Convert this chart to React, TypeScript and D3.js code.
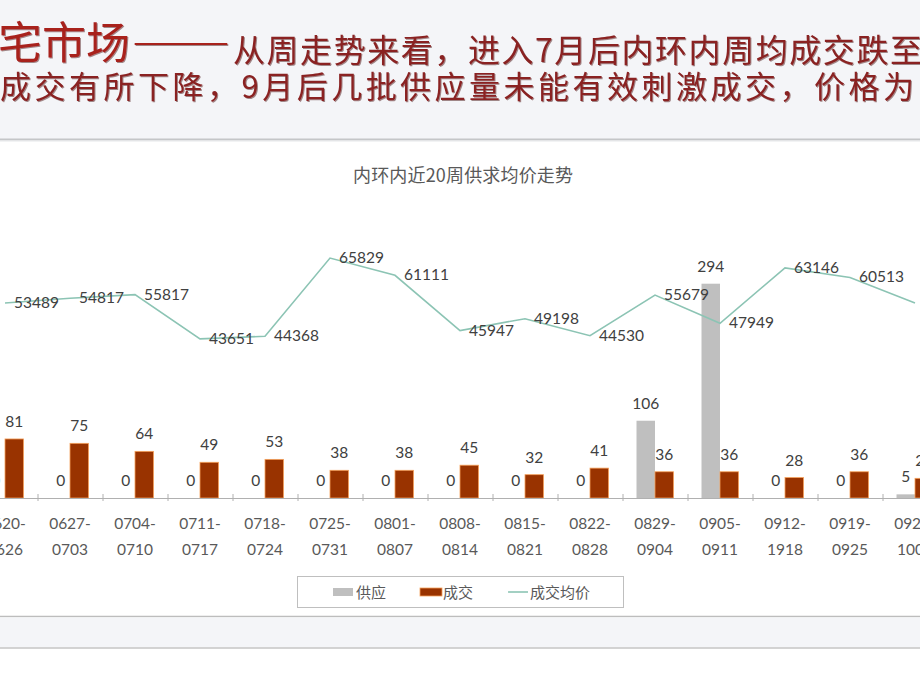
import React from 'react';
import * as d3 from 'd3';

const categories = [
  '0620-0626', '0627-0703', '0704-0710', '0711-0717', '0718-0724',
  '0725-0731', '0801-0807', '0808-0814', '0815-0821', '0822-0828',
  '0829-0904', '0905-0911', '0912-1918', '0919-0925', '0926-1002',
];
const supply = [0, 0, 0, 0, 0, 0, 0, 0, 0, 0, 106, 294, 0, 0, 5];
const deals = [81, 75, 64, 49, 53, 38, 38, 45, 32, 41, 36, 36, 28, 36, 27];
const prices = [53489, 54817, 55817, 43651, 44368, 65829, 61111, 45947, 49198, 44530, 55679, 47949, 63146, 60513, 53500];
const priceLabelShown = [true, true, true, true, true, true, true, true, true, true, true, true, true, true, false];
const seriesNames = ['供应', '成交', '成交均价'];

const headerBig = '宅市场';
const headerDash = '——';
const headerLine1 = '从周走势来看，进入7月后内环内周均成交跌至';
const headerLine2 = '成交有所下降，9月后几批供应量未能有效刺激成交，价格为';
const chartTitle = '内环内近20周供求均价走势';

const W = 920;
const H = 690;
const STEP = 65;
const X0 = -27.5;
const BASE = 498;
const TOP = 170;

const GRAY = '#BFBFBF';
const BROWN = '#993300';
const BROWN_EDGE = '#F5A05A';
const LINE = '#8CC4B4';
const RED_BIG = '#A8201F';
const RED_TXT = '#8A2323';

export default function App() {
  const x = d3.scaleBand<string>().domain(categories).range([X0, X0 + STEP * categories.length]).padding(0);
  const inner = d3.scaleBand<string>().domain(['s', 'd']).range([0, STEP]).paddingInner(0).paddingOuter(0.757);
  const yBar = d3.scaleLinear().domain([0, 450]).range([BASE, TOP]);
  const yLine = d3.scaleLinear().domain([0, 90000]).range([BASE, TOP]);
  const bw = inner.bandwidth();
  const center = (c: string) => (x(c) as number) + STEP / 2;

  const linePath = d3.line<number>()
    .x((_, i) => center(categories[i]))
    .y((v) => yLine(v))(prices) as string;

  const sansCJK = '"Noto Sans CJK SC", "Noto Sans", sans-serif';
  const labelFont = 'Lato, "Open Sans", sans-serif';

  return (
    <div style={{ position: 'fixed', left: 0, top: 0, width: W, height: H }}>
      <svg width={W} height={H} viewBox={`0 0 ${W} ${H}`} style={{ display: 'block', background: '#fff' }}>
        <defs>
          <filter id="hshadow" x="-5%" y="-20%" width="110%" height="150%">
            <feDropShadow dx={1} dy={1} stdDeviation={0.6} floodColor="#3a0a0a" floodOpacity={0.45} />
          </filter>
        </defs>
        {/* header band */}
        <rect x={0} y={0} width={W} height={139} fill="#F4F5F8" />
        <line x1={0} x2={W} y1={139.5} y2={139.5} stroke="#C4C6C8" strokeWidth={2} />
        <line x1={0} x2={W} y1={141} y2={141} stroke="#E6E8EA" strokeWidth={1} />

        <g filter="url(#hshadow)">
          <text x={-2} y={59} fill={RED_BIG} fontFamily={sansCJK} fontSize={44} textLength={132} lengthAdjust="spacingAndGlyphs">{headerBig}</text>
          <text x={132} y={53} fill={RED_BIG} fontFamily={sansCJK} fontSize={32} textLength={98} lengthAdjust="spacingAndGlyphs">{headerDash}</text>
          <text x={233} y={62} fill={RED_TXT} fontFamily={sansCJK} fontSize={32} textLength={689} lengthAdjust="spacing">{headerLine1}</text>
          <text x={0} y={98} fill={RED_TXT} fontFamily={sansCJK} fontSize={31} textLength={914} lengthAdjust="spacing">{headerLine2}</text>
        </g>

        {/* chart title */}
        <text x={463} y={182} textAnchor="middle" fill="#595959" fontFamily={sansCJK} fontSize={18} textLength={220} lengthAdjust="spacing">{chartTitle}</text>

        {/* bars */}
        {categories.map((c, i) => {
          const gx = (x(c) as number) + (inner('s') as number);
          const dx = (x(c) as number) + (inner('d') as number);
          return (
            <g key={c}>
              <rect x={gx} y={yBar(supply[i])} width={bw} height={BASE - yBar(supply[i])} fill={GRAY} />
              <rect x={dx} y={yBar(deals[i])} width={bw} height={BASE - yBar(deals[i])} fill={BROWN} stroke={BROWN_EDGE} strokeWidth={0.8} />
              <text x={gx + bw / 2} y={yBar(supply[i]) - 12} textAnchor="middle" fill="#404040" fontFamily={labelFont} fontSize={15.5}>{supply[i]}</text>
              <text x={dx + bw / 2} y={yBar(deals[i]) - 12} textAnchor="middle" fill="#404040" fontFamily={labelFont} fontSize={15.5}>{deals[i]}</text>
            </g>
          );
        })}

        {/* axis */}
        <line x1={0} x2={W} y1={BASE + 0.5} y2={BASE + 0.5} stroke="#B0B0B0" strokeWidth={1} />
        {categories.map((c) => (
          <line key={'t' + c} x1={(x(c) as number) + STEP + 0.5} x2={(x(c) as number) + STEP + 0.5} y1={BASE - 4} y2={BASE + 3} stroke="#B0B0B0" strokeWidth={1} />
        ))}
        {categories.map((c) => {
          const [a, b] = c.split('-');
          return (
            <text key={'l' + c} textAnchor="middle" fill="#595959" fontFamily={labelFont} fontSize={15.5}>
              <tspan x={center(c)} y={529}>{a + '-'}</tspan>
              <tspan x={center(c)} y={555}>{b}</tspan>
            </text>
          );
        })}

        {/* price line */}
        <path d={linePath} fill="none" stroke={LINE} strokeWidth={1.6} />
        {prices.map((v, i) => priceLabelShown[i] ? (
          <text key={'p' + i} x={center(categories[i]) + 9} y={yLine(v) + 5} fill="#404040" fontFamily={labelFont} fontSize={15.5}>{v}</text>
        ) : null)}

        {/* legend */}
        <rect x={297.5} y={576.5} width={326} height={31} fill="#fff" stroke="#BFBFBF" strokeWidth={1} />
        <rect x={333} y={588} width={20} height={8} fill={GRAY} />
        <text x={356} y={598} fill="#595959" fontFamily={sansCJK} fontSize={15}>{seriesNames[0]}</text>
        <rect x={420} y={588} width={22} height={8} fill={BROWN} stroke={BROWN_EDGE} strokeWidth={0.8} />
        <text x={443} y={598} fill="#595959" fontFamily={sansCJK} fontSize={15}>{seriesNames[1]}</text>
        <line x1={508} x2={528} y1={592} y2={592} stroke={LINE} strokeWidth={1.6} />
        <text x={530} y={598} fill="#595959" fontFamily={sansCJK} fontSize={15}>{seriesNames[2]}</text>

        {/* footer band */}
        <line x1={0} x2={W} y1={616.5} y2={616.5} stroke="#BDBDBD" strokeWidth={1.5} />
        <rect x={0} y={617.5} width={W} height={30} fill="#F4F5F8" />
        <line x1={0} x2={W} y1={648} y2={648} stroke="#C4C4C4" strokeWidth={1.5} />
      </svg>
    </div>
  );
}
